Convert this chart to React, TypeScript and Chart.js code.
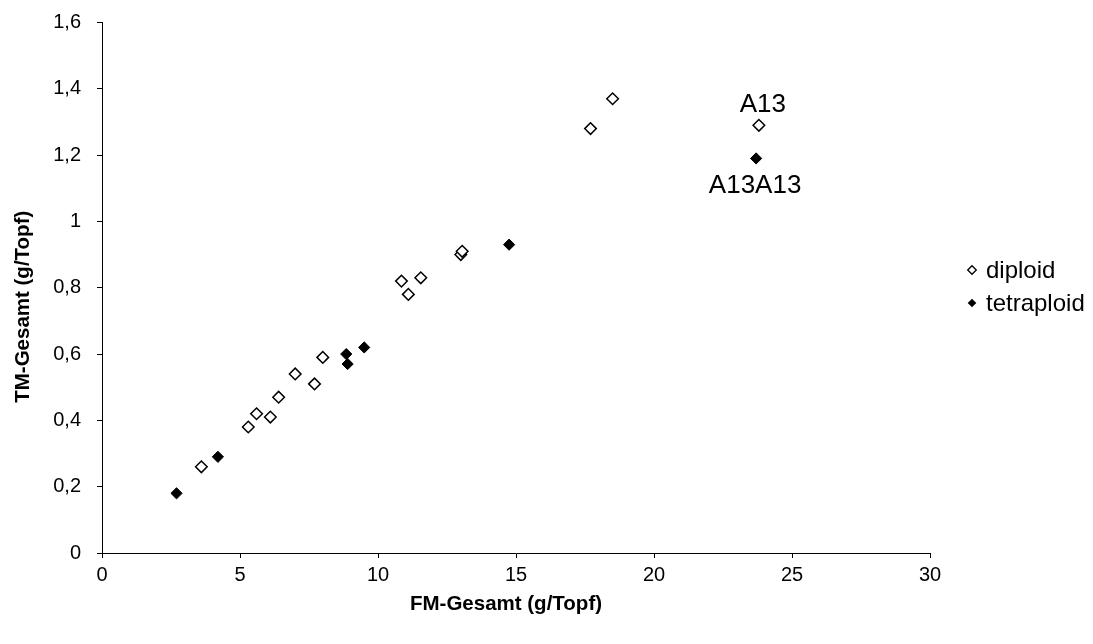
import React, { useEffect, useRef } from 'react';
import { Chart, registerables } from 'chart.js';

Chart.register(...registerables);

// ---- Data ----
const seriesNames = ['diploid', 'tetraploid'];
const diploidX = [3.6, 5.3, 5.6, 6.1, 6.4, 7.0, 7.7, 8.0, 10.85, 11.1, 11.55, 13.0, 13.05, 17.7, 18.5, 23.8];
const diploidY = [0.26, 0.38, 0.42, 0.41, 0.47, 0.54, 0.51, 0.59, 0.82, 0.78, 0.83, 0.9, 0.91, 1.28, 1.37, 1.29];
const tetraX = [2.7, 4.2, 8.85, 8.9, 9.5, 14.75, 23.7];
const tetraY = [0.18, 0.29, 0.6, 0.57, 0.62, 0.93, 1.19];
const xTickValues = [0, 5, 10, 15, 20, 25, 30];
const yTickValues = [0, 0.2, 0.4, 0.6, 0.8, 1, 1.2, 1.4, 1.6];
const xTitle = 'FM-Gesamt (g/Topf)';
const yTitle = 'TM-Gesamt (g/Topf)';
// point annotations: [datasetIndex, pointIndex, text, placement]
const annotations: [number, number, string, 'above' | 'below'][] = [
  [0, 15, 'A13', 'above'],
  [1, 6, 'A13A13', 'below'],
];

const FONT = "'Liberation Sans', Arial, sans-serif";

const annotationPlugin = {
  id: 'pointAnnotations',
  afterDatasetsDraw(chart: any) {
    const ctx = chart.ctx;
    ctx.save();
    ctx.font = `26px ${FONT}`;
    ctx.fillStyle = '#000';
    ctx.textAlign = 'center';
    ctx.textBaseline = 'middle';
    annotations.forEach(([ds, idx, text, place]) => {
      const el = chart.getDatasetMeta(ds).data[idx];
      if (!el) return;
      const dx = place === 'above' ? 4 : -1;
      const dy = place === 'above' ? -20 : 27;
      ctx.fillText(text, el.x + dx, el.y + dy);
    });
    ctx.restore();
  },
};

const titlesPlugin = {
  id: 'axisTitles',
  afterDraw(chart: any) {
    const ctx = chart.ctx;
    const area = chart.chartArea;
    ctx.save();
    ctx.font = `bold 20.5px ${FONT}`;
    ctx.fillStyle = '#000';
    ctx.textAlign = 'center';
    ctx.textBaseline = 'middle';
    // x title
    ctx.fillText(xTitle, (area.left + area.right) / 2 - 10, 604);
    // y title
    ctx.translate(23, (area.top + area.bottom) / 2 + 19);
    ctx.rotate(-Math.PI / 2);
    ctx.fillText(yTitle, 0, 0);
    ctx.restore();
  },
};

const legendPlugin = {
  id: 'customLegend',
  afterDraw(chart: any) {
    const ctx = chart.ctx;
    const area = chart.chartArea;
    const mx = area.right + 42;
    const tx = area.right + 56;
    const ys = [270, 303];
    ctx.save();
    ctx.font = `24px ${FONT}`;
    ctx.textAlign = 'left';
    ctx.textBaseline = 'middle';
    seriesNames.forEach((name, i) => {
      const y = ys[i];
      const r = 4.3;
      ctx.beginPath();
      ctx.moveTo(mx - r, y);
      ctx.lineTo(mx, y - r);
      ctx.lineTo(mx + r, y);
      ctx.lineTo(mx, y + r);
      ctx.closePath();
      if (i === 0) {
        ctx.fillStyle = '#fff';
        ctx.fill();
        ctx.lineWidth = 1.3;
        ctx.strokeStyle = '#000';
        ctx.stroke();
      } else {
        ctx.fillStyle = '#000';
        ctx.fill();
      }
      ctx.fillStyle = '#000';
      ctx.fillText(name, tx, y + 1);
    });
    ctx.restore();
  },
};

const fmt = (v: number) => String(Math.round(v * 10) / 10).replace('.', ',');

export default function App() {
  const ref = useRef<HTMLCanvasElement | null>(null);
  useEffect(() => {
    if (!ref.current) return;
    const chart = new Chart(ref.current, {
      type: 'scatter',
      data: {
        datasets: [
          {
            label: seriesNames[0],
            data: diploidX.map((x, i) => ({ x, y: diploidY[i] })),
            pointStyle: 'rectRot',
            pointRadius: 5.8,
            pointBackgroundColor: '#fff',
            pointBorderColor: '#000',
            pointBorderWidth: 1.5,
          },
          {
            label: seriesNames[1],
            data: tetraX.map((x, i) => ({ x, y: tetraY[i] })),
            pointStyle: 'rectRot',
            pointRadius: 5.6,
            pointBackgroundColor: '#000',
            pointBorderColor: '#000',
            pointBorderWidth: 1,
          },
        ],
      },
      options: {
        animation: false,
        responsive: true,
        maintainAspectRatio: false,
        layout: { padding: { left: 0, top: 22.5, right: 163, bottom: 0 } },
        plugins: {
          legend: { display: false },
          tooltip: { enabled: false },
        },
        scales: {
          x: {
            type: 'linear',
            min: 0,
            max: 30,
            afterBuildTicks: (s: any) => {
              s.ticks = xTickValues.map((v) => ({ value: v }));
            },
            afterFit: (s: any) => {
              s.height = 91;
              s.paddingLeft = 0;
              s.paddingRight = 0;
            },
            ticks: {
              color: '#000',
              font: { family: FONT, size: 20 },
              padding: 5,
              callback: (v: any) => fmt(Number(v)),
            },
            grid: { drawOnChartArea: false, drawTicks: true, tickLength: 5, color: '#000' },
            border: { display: true, color: '#000', width: 1 },
          },
          y: {
            type: 'linear',
            min: 0,
            max: 1.6,
            afterBuildTicks: (s: any) => {
              s.ticks = yTickValues.map((v) => ({ value: v }));
            },
            afterFit: (s: any) => {
              s.width = 102;
              s.paddingTop = 0;
              s.paddingBottom = 0;
            },
            ticks: {
              color: '#000',
              font: { family: FONT, size: 20 },
              padding: 16,
              callback: (v: any) => fmt(Number(v)),
            },
            grid: { drawOnChartArea: false, drawTicks: true, tickLength: 5, color: '#000' },
            border: { display: true, color: '#000', width: 1 },
          },
        },
      },
      plugins: [annotationPlugin, titlesPlugin, legendPlugin],
    });
    return () => chart.destroy();
  }, []);
  return (
    <div style={{ position: 'fixed', left: 0, top: 0, width: 1093, height: 644, background: '#fff' }}>
      <canvas ref={ref} />
    </div>
  );
}
